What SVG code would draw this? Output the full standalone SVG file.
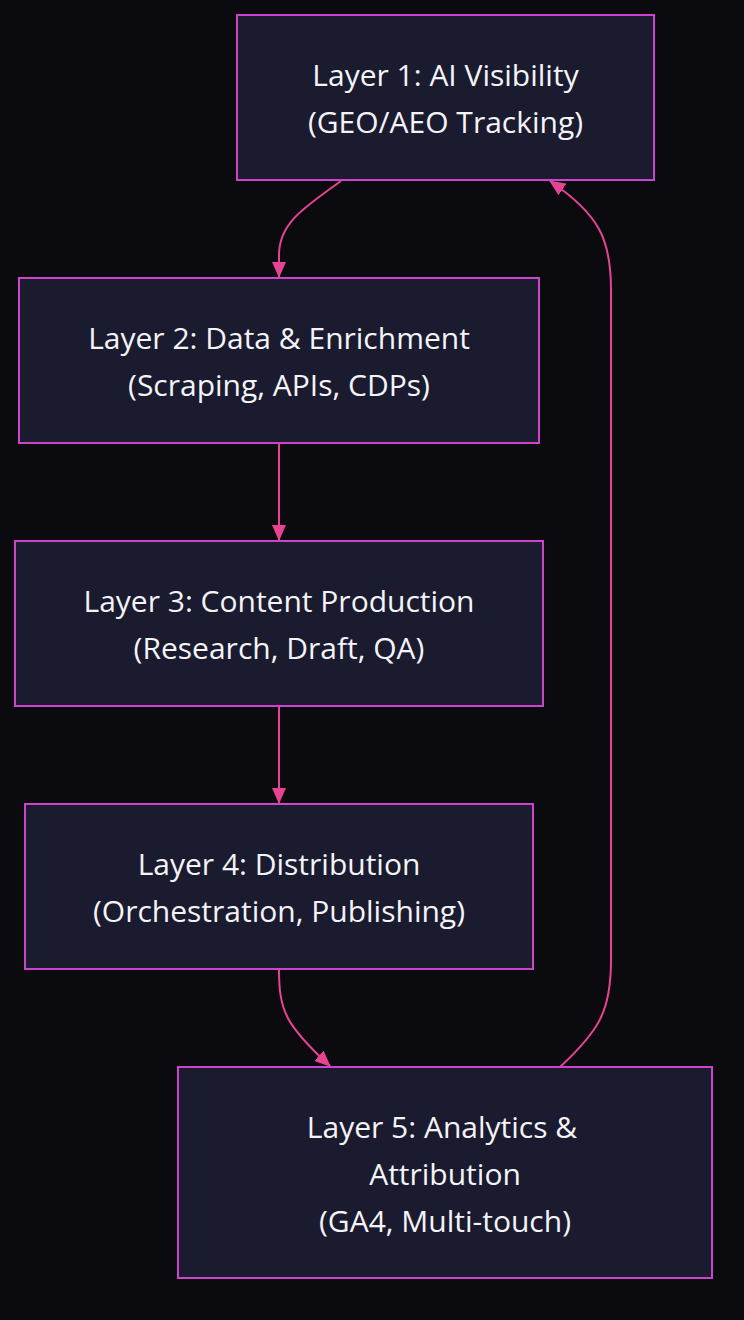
<svg xmlns="http://www.w3.org/2000/svg" width="744" height="1320" viewBox="0 0 744 1320">
<style>
.bg{fill:#0a0a0f}
.node rect{fill:#1b1b2f;stroke:#cc44cc;stroke-width:2}
.node text{fill:#f4f4f8;font-family:"Open Sans","Noto Sans","DejaVu Sans",sans-serif;font-size:30px;text-anchor:middle}
.edge{fill:none;stroke:#e84393;stroke-width:2}
</style>
<defs>
<marker id="ah" viewBox="0 0 16 14" refX="15" refY="7" markerWidth="16" markerHeight="14" markerUnits="userSpaceOnUse" orient="auto">
<path d="M0,0 L16,7 L0,14 z" fill="#e84393"/>
</marker>
</defs>
<rect class="bg" x="0" y="0" width="744" height="1320"/>
<g id="connectors">
<path class="edge" d="M341,181 C300,210 279,225 279,255 L279,277" marker-end="url(#ah)"/>
<path class="edge" d="M279,443 L279,540" marker-end="url(#ah)"/>
<path class="edge" d="M279,706 L279,803" marker-end="url(#ah)"/>
<path class="edge" d="M279,969 C279,1010 285,1025 330,1066" marker-end="url(#ah)"/>
<path class="edge" d="M560,1067 C600,1030 611,1010 611,960 L611,290 C611,240 600,215 550,181" marker-end="url(#ah)"/>
</g>
<g id="node1" class="node">
<rect x="237" y="15" width="417" height="165"/>
<text x="445.5" y="86">Layer 1: AI Visibility</text>
<text x="445.5" y="133">(GEO/AEO Tracking)</text>
</g>
<g id="node2" class="node">
<rect x="19" y="278" width="520" height="165"/>
<text x="279" y="349">Layer 2: Data &amp; Enrichment</text>
<text x="279" y="396">(Scraping, APIs, CDPs)</text>
</g>
<g id="node3" class="node">
<rect x="15" y="541" width="528" height="165"/>
<text x="279" y="612">Layer 3: Content Production</text>
<text x="279" y="659">(Research, Draft, QA)</text>
</g>
<g id="node4" class="node">
<rect x="25" y="804" width="508" height="165"/>
<text x="279" y="875">Layer 4: Distribution</text>
<text x="279" y="922">(Orchestration, Publishing)</text>
</g>
<g id="node5" class="node">
<rect x="178" y="1067" width="534" height="211"/>
<text x="442" y="1138">Layer 5: Analytics &amp;</text>
<text x="445" y="1185">Attribution</text>
<text x="445" y="1232">(GA4, Multi-touch)</text>
</g>
</svg>
